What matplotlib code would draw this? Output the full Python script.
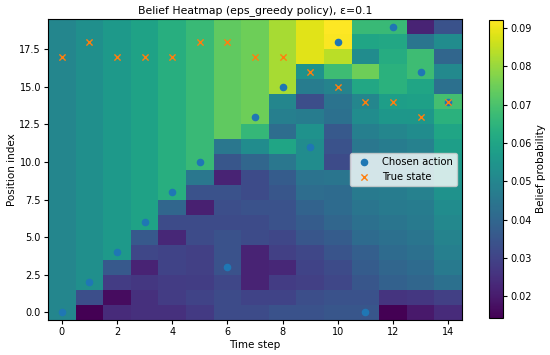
import numpy as np
import matplotlib
matplotlib.use("Agg")
import matplotlib.pyplot as plt

# Belief per time step (each list: positions 0..19)
step_0 = [0.050] * 20
step_1 = [0.0145, 0.033] + [0.053] * 18
step_2 = [0.024, 0.017, 0.028, 0.036] + [0.056] * 16
step_3 = [0.025, 0.025, 0.027, 0.022, 0.031, 0.036] + [0.059] * 14
step_4 = [0.025, 0.028, 0.028, 0.030, 0.030, 0.023, 0.032, 0.040] + [0.063] * 12
step_5 = [0.0275, 0.030, 0.0283, 0.029, 0.029, 0.032, 0.032, 0.021, 0.034, 0.045] + [0.067] * 10
step_6 = [0.032, 0.032, 0.031, 0.034, 0.034, 0.034, 0.032, 0.033, 0.034, 0.022,
          0.035, 0.045] + [0.073] * 8
step_7 = [0.032, 0.030, 0.022, 0.022, 0.022, 0.032, 0.032, 0.034, 0.032, 0.032,
          0.040, 0.052, 0.066] + [0.075] * 7
step_8 = [0.034, 0.030, 0.028, 0.023, 0.029, 0.031, 0.034, 0.034, 0.035, 0.037,
          0.045, 0.060, 0.042, 0.048, 0.050, 0.082, 0.082, 0.082, 0.082, 0.082]
step_9 = [0.034, 0.033, 0.029, 0.030, 0.031, 0.035, 0.037, 0.039, 0.042, 0.044,
          0.052, 0.052, 0.054, 0.047, 0.033, 0.047, 0.054, 0.0885, 0.0885, 0.0885]
step_10 = [0.035, 0.034, 0.031, 0.032, 0.0345, 0.037, 0.040, 0.0415, 0.0415, 0.0445,
           0.032, 0.034, 0.036, 0.043, 0.044, 0.049, 0.068, 0.084, 0.0915, 0.0921]
step_11 = [0.035, 0.034, 0.035, 0.037, 0.038, 0.0415, 0.043, 0.0446, 0.046, 0.0478,
           0.046, 0.045, 0.048, 0.052, 0.050, 0.061, 0.075, 0.052, 0.060, 0.067]
step_12 = [0.0143, 0.026, 0.0384, 0.040, 0.0415, 0.043, 0.0446, 0.046, 0.047, 0.0485,
           0.047, 0.047, 0.050, 0.0555, 0.058, 0.064, 0.064, 0.0625, 0.061, 0.067]
step_13 = [0.0197, 0.027, 0.040, 0.0415, 0.043, 0.0446, 0.046, 0.047, 0.0485, 0.049,
           0.048, 0.0485, 0.052, 0.0555, 0.0586, 0.060, 0.068, 0.068, 0.0446, 0.022]
step_14 = [0.024, 0.029, 0.043, 0.046, 0.0478, 0.049, 0.0505, 0.052, 0.054, 0.055,
           0.057, 0.058, 0.060, 0.064, 0.069, 0.043, 0.051, 0.040, 0.052, 0.034]

belief_steps = [step_0, step_1, step_2, step_3, step_4, step_5, step_6, step_7,
                step_8, step_9, step_10, step_11, step_12, step_13, step_14]

time_steps = list(range(15))
chosen_action = [0, 2, 4, 6, 8, 10, 3, 13, 15, 11, 18, 0, 19, 16, 14]
true_state = [17, 18, 17, 17, 17, 18, 18, 17, 17, 16, 15, 14, 14, 13, 14]

belief = np.array(belief_steps).T  # rows: positions, cols: time steps

fig = plt.figure(figsize=(5.5, 3.55), dpi=100)
ax = fig.add_axes([48 / 550, 35 / 355, 414 / 550, 301 / 355])
cax = fig.add_axes([489 / 550, 37 / 355, 14 / 550, 298 / 355])

im = ax.imshow(belief, origin="lower", aspect="auto", cmap="viridis")
ax.scatter(time_steps, chosen_action, s=20, color="tab:blue", label="Chosen action", zorder=3)
ax.scatter(time_steps, true_state, s=20, marker="x", color="tab:orange", linewidths=1.0,
           label="True state", zorder=3)

ax.set_title("Belief Heatmap (eps_greedy policy), ε=0.1", fontsize=7.8, pad=4)
ax.set_xlabel("Time step", fontsize=7.5, labelpad=2)
ax.set_ylabel("Position index", fontsize=7.5, labelpad=2)
ax.set_xticks(range(0, 15, 2))
ax.tick_params(labelsize=7, length=3, pad=2)
ax.legend(loc="center right", fontsize=7.2, framealpha=0.8)

cb = fig.colorbar(im, cax=cax)
cb.set_label("Belief probability", fontsize=7.5, labelpad=3)
cb.ax.tick_params(labelsize=7, length=3, pad=2)
cb.set_ticks([0.02, 0.03, 0.04, 0.05, 0.06, 0.07, 0.08, 0.09])

fig.savefig("out.png", dpi=100)
